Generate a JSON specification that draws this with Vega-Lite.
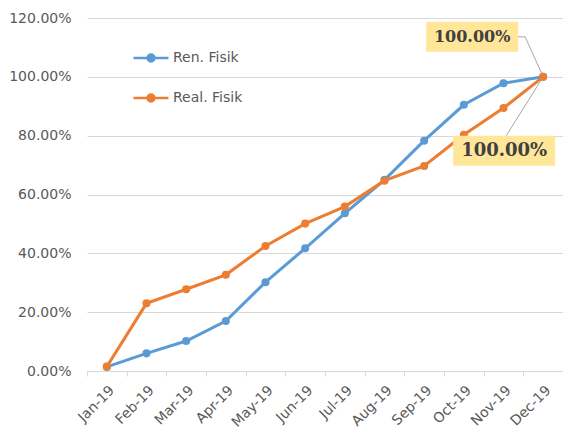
{
  "$schema": "https://vega.github.io/schema/vega-lite/v6.json",
  "width": 476,
  "height": 353,
  "autosize": "none",
  "padding": {"left": 87, "top": 18, "right": 0, "bottom": 61},
  "background": "white",
  "config": {
    "view": {"stroke": null},
    "font": "DejaVu Sans",
    "axisY": {
      "grid": true, "gridColor": "#D9D9D9", "gridWidth": 1,
      "domain": false, "ticks": false, "labelPadding": 16,
      "labelColor": "#595959", "labelFontSize": 14, "title": null
    },
    "axisX": {
      "grid": false, "domainColor": "#D9D9D9", "tickColor": "#D9D9D9", "tickSize": 5,
      "tickBand": "extent", "labelAngle": -45, "labelColor": "#595959",
      "labelFontSize": 14, "title": null, "labelPadding": 7
    }
  },
  "datasets": {
    "series": [
      {"month": "Jan-19", "series": "Ren. Fisik", "value": 0.014},
      {"month": "Feb-19", "series": "Ren. Fisik", "value": 0.060},
      {"month": "Mar-19", "series": "Ren. Fisik", "value": 0.102},
      {"month": "Apr-19", "series": "Ren. Fisik", "value": 0.170},
      {"month": "May-19", "series": "Ren. Fisik", "value": 0.302},
      {"month": "Jun-19", "series": "Ren. Fisik", "value": 0.417},
      {"month": "Jul-19", "series": "Ren. Fisik", "value": 0.536},
      {"month": "Aug-19", "series": "Ren. Fisik", "value": 0.650},
      {"month": "Sep-19", "series": "Ren. Fisik", "value": 0.783},
      {"month": "Oct-19", "series": "Ren. Fisik", "value": 0.905},
      {"month": "Nov-19", "series": "Ren. Fisik", "value": 0.978},
      {"month": "Dec-19", "series": "Ren. Fisik", "value": 1.0},
      {"month": "Jan-19", "series": "Real. Fisik", "value": 0.015},
      {"month": "Feb-19", "series": "Real. Fisik", "value": 0.230},
      {"month": "Mar-19", "series": "Real. Fisik", "value": 0.278},
      {"month": "Apr-19", "series": "Real. Fisik", "value": 0.327},
      {"month": "May-19", "series": "Real. Fisik", "value": 0.425},
      {"month": "Jun-19", "series": "Real. Fisik", "value": 0.501},
      {"month": "Jul-19", "series": "Real. Fisik", "value": 0.559},
      {"month": "Aug-19", "series": "Real. Fisik", "value": 0.647},
      {"month": "Sep-19", "series": "Real. Fisik", "value": 0.697},
      {"month": "Oct-19", "series": "Real. Fisik", "value": 0.803},
      {"month": "Nov-19", "series": "Real. Fisik", "value": 0.894},
      {"month": "Dec-19", "series": "Real. Fisik", "value": 1.0}
    ],
    "labels": [
      {"month": "Dec-19", "series": "Ren. Fisik", "value": 1.0, "label": "100.00%"},
      {"month": "Dec-19", "series": "Real. Fisik", "value": 1.0, "label": "100.00%"}
    ]
  },
  "encoding": {
    "x": {"field": "month", "type": "nominal",
          "sort": ["Jan-19", "Feb-19", "Mar-19", "Apr-19", "May-19", "Jun-19", "Jul-19", "Aug-19", "Sep-19", "Oct-19", "Nov-19", "Dec-19"],
          "scale": {"type": "band", "paddingInner": 0, "paddingOuter": 0}},
    "y": {"field": "value", "type": "quantitative",
          "scale": {"domain": [0, 1.2], "nice": false},
          "axis": {"values": [0, 0.2, 0.4, 0.6, 0.8, 1.0, 1.2], "format": ".2%"}}
  },
  "layer": [
    {
      "data": {"name": "labels"},
      "transform": [{"filter": "datum.series == 'Ren. Fisik'"}],
      "mark": {"type": "point", "shape": "M0,0L-18,-40L-28,-40", "size": 4, "filled": false,
               "stroke": "#A6A6A6", "strokeWidth": 1, "opacity": 1}
    },
    {
      "data": {"name": "labels"},
      "transform": [{"filter": "datum.series == 'Real. Fisik'"}],
      "mark": {"type": "point", "shape": "M0,0L-37,59", "size": 4, "filled": false,
               "stroke": "#A6A6A6", "strokeWidth": 1, "opacity": 1}
    },
    {
      "data": {"name": "series"},
      "mark": {"type": "line", "strokeWidth": 3},
      "encoding": {
        "color": {"field": "series", "type": "nominal",
                  "scale": {"domain": ["Ren. Fisik", "Real. Fisik"], "range": ["#5B9BD5", "#ED7D31"]},
                  "legend": {
                    "orient": "none", "legendX": 45, "legendY": 21, "title": null,
                    "symbolType": "M-1,0H1M-0.2,0A0.2,0.2 0 1,1 0.2,0A0.2,0.2 0 1,1 -0.2,0Z",
                    "symbolSize": 1225, "symbolStrokeWidth": 2.5,
                    "labelFontSize": 14, "labelColor": "#595959", "labelOffset": 3,
                    "rowPadding": 12,
                    "encode": {"symbols": {"update": {
                      "fill": {"scale": "color", "field": "value"},
                      "stroke": {"scale": "color", "field": "value"},
                      "opacity": {"value": 1}
                    }}}
                  }}
      }
    },
    {
      "data": {"name": "series"},
      "mark": {"type": "point", "filled": true, "size": 65, "opacity": 1},
      "encoding": {
        "color": {"field": "series", "type": "nominal", "legend": null}
      }
    },
    {
      "data": {"name": "labels"},
      "transform": [{"filter": "datum.series == 'Ren. Fisik'"}],
      "mark": {"type": "point", "shape": "M-117,-55H-25V-25H-117Z", "size": 4, "filled": true,
               "fill": "#FFE699", "strokeWidth": 0, "opacity": 1}
    },
    {
      "data": {"name": "labels"},
      "transform": [{"filter": "datum.series == 'Real. Fisik'"}],
      "mark": {"type": "point", "shape": "M-90,59H12V89H-90Z", "size": 4, "filled": true,
               "fill": "#FFE699", "strokeWidth": 0, "opacity": 1}
    },
    {
      "data": {"name": "labels"},
      "transform": [{"filter": "datum.series == 'Ren. Fisik'"}],
      "mark": {"type": "text", "font": "DejaVu Serif", "fontWeight": "bold", "fontSize": 16,
               "color": "#404040", "dx": -71, "dy": -40, "align": "center", "baseline": "middle"},
      "encoding": {"text": {"field": "label"}}
    },
    {
      "data": {"name": "labels"},
      "transform": [{"filter": "datum.series == 'Real. Fisik'"}],
      "mark": {"type": "text", "font": "DejaVu Serif", "fontWeight": "bold", "fontSize": 18,
               "color": "#404040", "dx": -39, "dy": 74, "align": "center", "baseline": "middle"},
      "encoding": {"text": {"field": "label"}}
    }
  ]
}
